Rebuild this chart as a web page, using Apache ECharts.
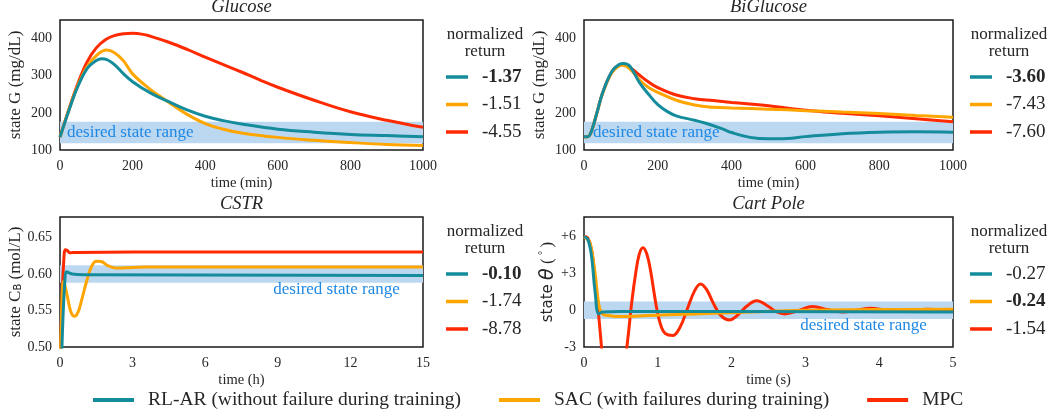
<!DOCTYPE html>
<html>
<head>
<meta charset="utf-8">
<script src="https://cdn.jsdelivr.net/npm/echarts@6/dist/echarts.min.js"></script>
<style>
html,body{margin:0;padding:0;background:#fff;}
#chart{width:1053px;height:417px;}
</style>
</head>
<body>
<div id="chart"></div>
<script>
// ---------------- DATA ----------------
const seriesNames = ['RL-AR (without failure during training)', 'SAC (with failures during training)', 'MPC'];
const panelTitles = ['Glucose', 'BiGlucose', 'CSTR', 'Cart Pole'];

// Glucose (time in min, G in mg/dL)
const glucoseRLAR = [[0,135],[30,222],[50,273],[75,320],[100,341],[115,346],[130,343],[150,330],[175,305],[200,284],[250,253],[300,230],[350,208],[400,191],[450,179],[500,170],[600,156],[700,148],[800,142],[900,139],[1000,136]];
const glucoseSAC  = [[0,135],[30,224],[50,276],[75,325],[100,354],[128,369],[150,362],[175,340],[200,305],[250,262],[275,245],[300,228],[350,196],[400,171],[450,156],[500,146],[600,134],[700,126],[800,120],[900,115],[1000,112]];
const glucoseMPC  = [[0,135],[30,226],[50,281],[75,338],[100,375],[125,397],[150,408],[175,413],[200,414],[225,412],[250,406],[300,390],[350,371],[400,350],[450,330],[500,310],[550,289],[600,269],[700,234],[800,203],[900,180],[1000,161]];
const glucoseReturns = ['-1.37', '-1.51', '-4.55'];
const glucoseBest = 0;
const glucoseBand = [118, 176];

// BiGlucose
const biglucoseRLAR = [[0,136],[10,136],[20,150],[35,200],[50,253],[75,311],[95,330],[108,333],[125,325],[150,282],[175,250],[200,222],[225,204],[250,192],[300,180],[330,172],[375,157],[400,147],[450,134],[500,130],[550,131],[600,136],[700,144],[800,148],[900,149],[1000,148]];
const biglucoseSAC  = [[0,136],[10,136],[20,150],[35,200],[50,252],[75,308],[95,326],[105,328],[125,318],[150,289],[175,268],[200,255],[250,234],[300,221],[350,215],[400,213],[500,210],[600,206],[700,202],[800,198],[900,193],[1000,188]];
const biglucoseMPC  = [[0,136],[10,136],[20,150],[35,200],[50,252],[75,309],[95,328],[108,330],[125,322],[150,302],[175,283],[200,268],[250,248],[300,238],[350,233],[400,228],[500,219],[600,207],[700,199],[800,192],[900,184],[1000,176]];
const biglucoseReturns = ['-3.60', '-7.43', '-7.60'];
const biglucoseBest = 0;
const biglucoseBand = [118, 176];

// CSTR (time in h, C_B in mol/L)
const cstrRLAR = [[0,0.40],[0.1,0.52],[0.2,0.59],[0.27,0.603],[0.5,0.600],[1,0.599],[15,0.598]];
const cstrSAC  = [[0,0.45],[0.08,0.56],[0.15,0.59],[0.3,0.57],[0.45,0.548],[0.6,0.542],[0.75,0.548],[0.9,0.565],[1.1,0.59],[1.3,0.61],[1.5,0.6175],[1.7,0.617],[2.0,0.611],[2.3,0.608],[2.7,0.6085],[3.5,0.6095],[15,0.6095]];
const cstrMPC  = [[0,0.45],[0.08,0.56],[0.15,0.615],[0.22,0.633],[0.3,0.632],[0.4,0.629],[0.7,0.6295],[3,0.630],[15,0.630]];
const cstrReturns = ['-0.10', '-1.74', '-8.78'];
const cstrBest = 0;
const cstrBand = [0.588, 0.612];

// Cart Pole (time in s, theta in degrees)
const cartRLAR = [[0,6],[0.05,5.8],[0.1,4.5],[0.15,1.5],[0.2,-0.3],[0.25,-0.15],[0.5,-0.1],[5,-0.15]];
const cartSAC  = [[0,6],[0.08,5.5],[0.15,3],[0.2,0.5],[0.25,-0.3],[0.35,-0.45],[0.5,-0.52],[0.8,-0.45],[1.5,-0.3],[2,-0.2],[3,0],[4,0.05],[5,0.08]];
const cartMPC  = [[0,6],[0.05,5.9],[0.1,5],[0.15,2.5],[0.2,-0.5],[0.25,-3.8],[0.3,-6.5],[0.41,-8.5],[0.5,-6.5],[0.55,-4.5],[0.6,-2],[0.65,0.8],[0.7,3],[0.75,4.6],[0.8,5.1],[0.85,4.6],[0.9,3.3],[0.95,1.4],[1.0,-0.3],[1.05,-1.4],[1.1,-1.9],[1.2,-2.07],[1.3,-1.4],[1.4,0.1],[1.5,1.6],[1.58,2.14],[1.66,1.7],[1.75,0.6],[1.85,-0.4],[1.97,-0.79],[2.1,-0.3],[2.2,0.3],[2.34,0.77],[2.5,0.3],[2.6,-0.1],[2.72,-0.3],[2.9,-0.05],[3.1,0.3],[3.3,0.05],[3.5,-0.15],[3.7,0.0],[3.88,0.15],[4.1,0.0],[4.27,-0.05],[4.45,0.02],[4.65,0.08],[4.85,0.02],[5,0]];
const cartReturns = ['-0.27', '-0.24', '-1.54'];
const cartBest = 1;
const cartBand = [-0.72, 0.72];

// axis ranges / ticks
const xRanges = [[0,1000,200],[0,1000,200],[0,15,3],[0,5,1]];
const yRanges = [[100,450,100],[100,450,100],[0.5,0.678,0.05],[-3,7.6,3]];
const xNames = ['time (min)', 'time (min)', 'time (h)', 'time (s)'];

// ---------------- STYLE ----------------
const FONT = 'Liberation Serif';
const TXT = '#262626';
const colors = ['#148c9c', '#ffa500', '#ff2a00'];
const bandColor = '#bcd8f1';
const bandText = '#1e88e5';

const grids = [
  {left:60, top:20, width:363, height:130},
  {left:584, top:20, width:369, height:130},
  {left:60, top:217, width:363, height:130},
  {left:584, top:217, width:369, height:130}
];

const panelData = [
  [glucoseRLAR, glucoseSAC, glucoseMPC],
  [biglucoseRLAR, biglucoseSAC, biglucoseMPC],
  [cstrRLAR, cstrSAC, cstrMPC],
  [cartRLAR, cartSAC, cartMPC]
];
const panelReturns = [glucoseReturns, biglucoseReturns, cstrReturns, cartReturns];
const panelBest = [glucoseBest, biglucoseBest, cstrBest, cartBest];
const panelBands = [glucoseBand, biglucoseBand, cstrBand, cartBand];
const bandLabelPos = [
  {position:'insideLeft', distance:7, offset:[0,0]},
  {position:'insideLeft', distance:9, offset:[0,0]},
  {position:'bottom', distance:0, offset:[95,-2]},
  {position:'bottom', distance:0, offset:[95,-2]}
];

const yNames = [
  {name:'{n|state G (mg/dL)}', gap:36},
  {name:'{n|state G (mg/dL)}', gap:36},
  {name:'{n|state C}{sub|B}{n| (mol/L)}', gap:36},
  {name:'{sans|state} {th|θ} {n|(}{deg|°}{n|)}', gap:24}
];

const title = grids.map((g, i) => ({
  text: panelTitles[i],
  left: g.left + g.width / 2,
  textAlign: 'center',
  top: g.top - 22,
  padding: 0,
  textStyle: {fontFamily: FONT, fontStyle: 'italic', fontWeight: 'normal', fontSize: 18.5, color: TXT}
}));

const xAxis = grids.map((g, i) => ({
  type: 'value', gridIndex: i,
  min: xRanges[i][0], max: xRanges[i][1], interval: xRanges[i][2],
  name: xNames[i], nameLocation: 'middle', nameGap: 26,
  nameTextStyle: {fontFamily: FONT, fontSize: 14.5, color: TXT},
  axisLine: {show: false}, axisTick: {show: false}, splitLine: {show: false},
  axisLabel: {fontFamily: FONT, fontSize: 14, color: TXT, margin: 9, formatter: (v) => String(v)}
}));

const yAxis = grids.map((g, i) => ({
  type: 'value', gridIndex: i,
  min: yRanges[i][0], max: yRanges[i][1], interval: yRanges[i][2],
  name: yNames[i].name, nameLocation: 'middle', nameGap: yNames[i].gap,
  nameTextStyle: {
    fontFamily: FONT, fontSize: 17, color: TXT,
    rich: {
      n: {fontFamily: FONT, fontSize: 17, color: TXT},
      sub: {fontFamily: 'DejaVu Sans', fontSize: 10, color: TXT, verticalAlign: 'bottom', padding: [7,0,0,0]},
      sans: {fontFamily: 'DejaVu Sans', fontSize: 15, color: TXT},
      th: {fontFamily: 'DejaVu Sans', fontStyle: 'italic', fontSize: 19, color: TXT},
      deg: {fontFamily: 'DejaVu Sans', fontSize: 10, color: TXT, verticalAlign: 'top', padding: [0,3,7,3]}
    }
  },
  axisLine: {show: false}, axisTick: {show: false}, splitLine: {show: false},
  axisLabel: {
    fontFamily: FONT, fontSize: 14, color: TXT, margin: 8, showMaxLabel: false,
    formatter: (v) => {
      if (i < 2) return String(Math.round(v));
      if (i === 2) return v.toFixed(2);
      const r = Math.round(v);
      return r > 0 ? '+' + r : String(r);
    }
  }
}));

const series = [];
grids.forEach((g, i) => {
  // draw order: MPC, SAC, RL-AR (RL-AR on top)
  [2, 1, 0].forEach((k) => {
    const s = {
      type: 'line', name: seriesNames[k],
      xAxisIndex: i, yAxisIndex: i,
      data: panelData[i][k],
      smooth: 0.4,
      symbol: 'none', clip: true,
      lineStyle: {color: colors[k], width: 3},
      itemStyle: {color: colors[k]},
      z: 3 + (2 - k)
    };
    if (k === 2) {
      s.markArea = {
        silent: true,
        itemStyle: {color: bandColor},
        label: {
          show: true, color: bandText, fontFamily: FONT, fontSize: 17,
          position: bandLabelPos[i].position, distance: bandLabelPos[i].distance,
          offset: bandLabelPos[i].offset
        },
        data: [[{yAxis: panelBands[i][0], name: 'desired state range'}, {yAxis: panelBands[i][1]}]]
      };
    }
    series.push(s);
  });
});

// per-panel "normalized return" legends (graphic)
const graphic = [];
const legendGeom = [
  {lineX: 446, textX: 482, cx: 485, top: 35},
  {lineX: 970, textX: 1006, cx: 1009, top: 35},
  {lineX: 446, textX: 482, cx: 485, top: 232},
  {lineX: 970, textX: 1006, cx: 1009, top: 232}
];
legendGeom.forEach((lg, i) => {
  graphic.push({type: 'text', x: lg.cx, y: lg.top, style: {text: 'normalized', font: '17px "' + FONT + '"', fill: TXT, align: 'center', verticalAlign: 'middle'}});
  graphic.push({type: 'text', x: lg.cx, y: lg.top + 16.5, style: {text: 'return', font: '17px "' + FONT + '"', fill: TXT, align: 'center', verticalAlign: 'middle'}});
  for (let k = 0; k < 3; k++) {
    const yy = lg.top + 42 + k * 27.5;
    graphic.push({type: 'line', shape: {x1: lg.lineX, y1: yy, x2: lg.lineX + 22, y2: yy}, style: {stroke: colors[k], lineWidth: 3.5}});
    graphic.push({type: 'text', x: lg.textX, y: yy, style: {
      text: panelReturns[i][k],
      font: (panelBest[i] === k ? 'bold ' : '') + '19px "' + FONT + '"',
      fill: TXT, align: 'left', verticalAlign: 'middle'}});
  }
});

const option = {
  animation: false,
  backgroundColor: '#ffffff',
  title: title,
  grid: grids.map(g => Object.assign({show: true, borderColor: '#1a1a1a', borderWidth: 1.5, backgroundColor: 'transparent'}, g)),
  xAxis: xAxis,
  yAxis: yAxis,
  legend: {
    data: seriesNames,
    left: 93,
    top: 390,
    padding: 0,
    icon: 'rect',
    itemWidth: 41,
    itemHeight: 4,
    itemGap: 38,
    textStyle: {fontFamily: FONT, fontSize: 19.5, color: TXT, padding: [0, 0, 0, 9]}
  },
  series: series,
  graphic: graphic
};

const chart = echarts.init(document.getElementById('chart'), null, {renderer: 'canvas'});
chart.setOption(option);
</script>
</body>
</html>
